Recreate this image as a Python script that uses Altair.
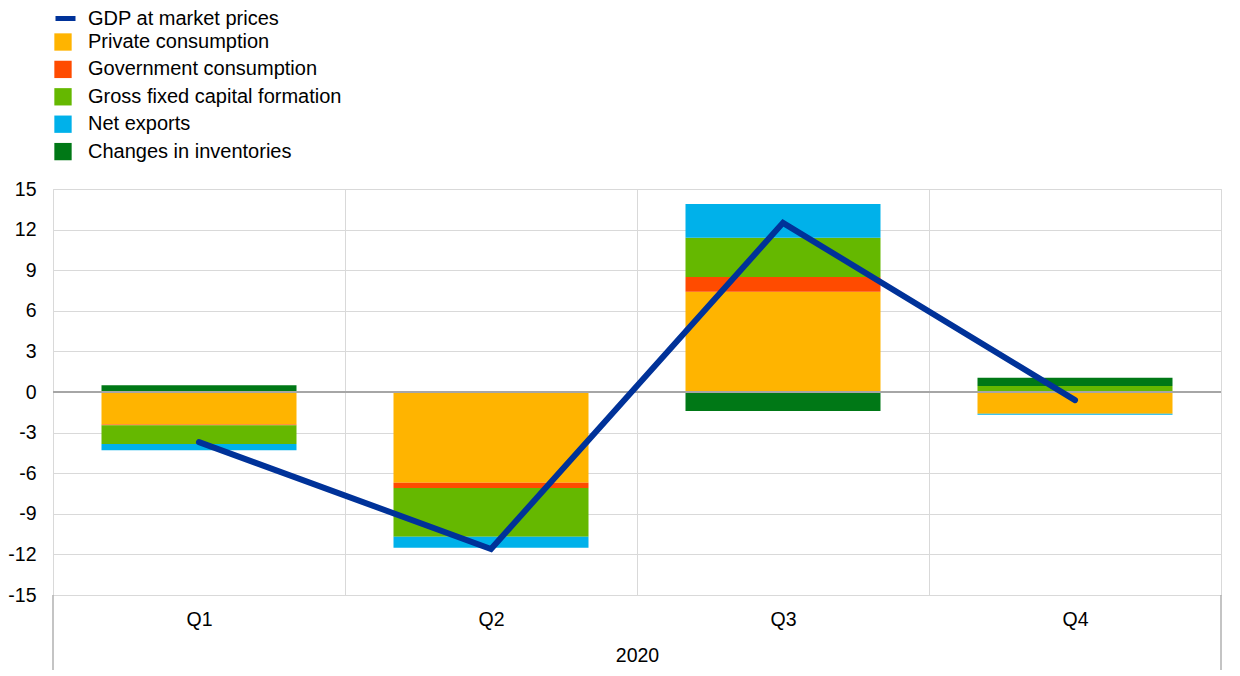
import altair as alt
import pandas as pd

quarters = ["Q1", "Q2", "Q3", "Q4"]
components = ["Private consumption", "Government consumption",
              "Gross fixed capital formation", "Net exports", "Changes in inventories"]
comp_colors = ["#FFB400", "#FF4B00", "#65B800", "#00B1EA", "#007816"]

private_cons = [-2.4, -6.7, 7.4, -1.6]
gov_cons = [-0.05, -0.4, 1.1, 0.05]
gfcf = [-1.4, -3.6, 2.9, 0.4]
net_exports = [-0.45, -0.8, 2.5, -0.08]
inventories = [0.5, 0.0, -1.4, 0.6]
gdp = [-3.7, -11.6, 12.5, -0.6]

series_vals = [private_cons, gov_cons, gfcf, net_exports, inventories]
rows = []
for i, (name, vals) in enumerate(zip(components, series_vals)):
    for q, v in zip(quarters, vals):
        rows.append({"quarter": q, "component": name, "value": v, "order": i})
bars_df = pd.DataFrame(rows)
gdp_df = pd.DataFrame({"quarter": quarters, "value": gdp, "series": "GDP at market prices"})

FONT = "Liberation Sans"
W, H = 1168, 406
AX_FS = 19.5
LG_FS = 20

x_enc = alt.X("quarter:N", sort=quarters,
              scale=alt.Scale(paddingInner=0, paddingOuter=0),
              axis=alt.Axis(title="2020", labelAngle=0, labelFontSize=AX_FS, labelPadding=15,
                            titleFontSize=AX_FS, titleFontWeight="normal", titlePadding=18,
                            domain=False, ticks=False, grid=True, tickBand="extent",
                            gridColor="#d9d9d9", labelColor="black", titleColor="black"))
y_scale = alt.Scale(domain=[-15, 15], nice=False, zero=False)
y_axis = alt.Axis(title=None, values=list(range(-15, 16, 3)), labelFontSize=AX_FS,
                  labelPadding=17, domain=False, ticks=False, grid=True,
                  labelExpr="'' + datum.value",
                  gridColor="#d9d9d9", labelColor="black")

bars = alt.Chart(bars_df).mark_bar(size=195).encode(
    x=x_enc,
    y=alt.Y("value:Q", stack="zero", scale=y_scale, axis=y_axis),
    color=alt.Color("component:N",
                    scale=alt.Scale(domain=components, range=comp_colors),
                    sort=components,
                    legend=alt.Legend(orient="none", legendX=0, legendY=-157, title=None,
                                      symbolType="square", symbolSize=300,
                                      symbolStrokeWidth=0, labelFontSize=LG_FS,
                                      labelOffset=15, rowPadding=7.4, labelLimit=1000,
                                      labelColor="black", labelFont=FONT)),
    order=alt.Order("order:Q"),
)

zero = alt.Chart(pd.DataFrame({"v": [0]})).mark_rule(color="#a6a6a6", strokeWidth=2).encode(
    y=alt.Y("v:Q", scale=y_scale)
)

line = alt.Chart(gdp_df).mark_line(strokeWidth=6, strokeCap="round").encode(
    x=alt.X("quarter:N", sort=quarters),
    y=alt.Y("value:Q", scale=y_scale),
    stroke=alt.Stroke("series:N",
                      scale=alt.Scale(domain=["GDP at market prices"], range=["#003299"]),
                      legend=alt.Legend(orient="none", legendX=0, legendY=-183, title=None,
                                        symbolType="stroke", symbolStrokeWidth=5,
                                        symbolSize=400, labelFontSize=LG_FS, labelOffset=10,
                                        labelLimit=1000,
                                        labelColor="black", labelFont=FONT)),
)

edge_left = alt.Chart(pd.DataFrame({"v": [0]})).mark_rule(color="#b0b0b0", strokeWidth=1.5, clip=False).encode(
    x=alt.value(0), y=alt.value(H), y2=alt.value(H + 75))
edge_right = alt.Chart(pd.DataFrame({"v": [0]})).mark_rule(color="#b0b0b0", strokeWidth=1.5, clip=False).encode(
    x=alt.value(W), y=alt.value(H), y2=alt.value(H + 75))

chart = alt.layer(bars, zero, line, edge_left, edge_right).resolve_scale(
    color="independent", stroke="independent"
).properties(
    width=W, height=H,
    autosize=alt.AutoSizeParams(type="none"),
    padding={"left": 45, "top": 181, "right": 11, "bottom": 75},
).configure_view(stroke=None).configure(
    font=FONT
).configure_axis(labelFont=FONT, titleFont=FONT)

chart.save("out.html", embed_options={"renderer": "svg", "actions": False})
